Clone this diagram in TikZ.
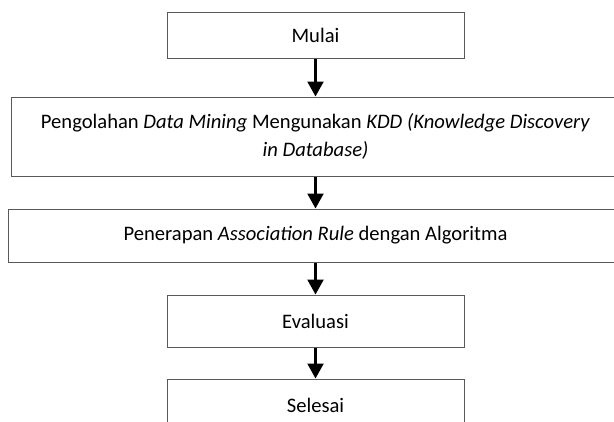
\documentclass[tikz,border=0pt]{standalone}
\usepackage{fontspec}
\setmainfont{Carlito}
\usetikzlibrary{arrows.meta}
\begin{document}
\begin{tikzpicture}[x=1bp,y=-1bp,
  box/.style={draw=black!65, line width=1bp, inner sep=0pt, align=center,
    font=\fontsize{20.6bp}{28bp}\selectfont},
  flow/.style={-{Triangle[length=15bp,width=16bp]}, line width=2.2bp}]
\useasboundingbox (0,0) rectangle (614,421);
\clip (0,0) rectangle (614,421);
\node[box, minimum width=297bp, minimum height=46bp] (mulai) at (315.5,35) {Mulai};
\node[box, minimum width=607bp, minimum height=79bp] (kdd) at (315.5,136.5)
  {Pengolahan \emph{Data Mining} Mengunakan \emph{KDD (Knowledge Discovery}\\\emph{in Database)}};
\node[box, minimum width=613bp, minimum height=53bp] (rule) at (315.5,235.5)
  {Penerapan \emph{Association Rule} dengan Algoritma};
\node[box, minimum width=297bp, minimum height=52bp] (eval) at (315.5,321) {Evaluasi};
\node[box, minimum width=297bp, minimum height=52bp] (selesai) at (315.5,405) {Selesai};
\draw[flow] (mulai.south) -- (kdd.north);
\draw[flow] (kdd.south) -- (rule.north);
\draw[flow] (rule.south) -- (eval.north);
\draw[flow] (eval.south) -- (selesai.north);
\end{tikzpicture}
\end{document}
